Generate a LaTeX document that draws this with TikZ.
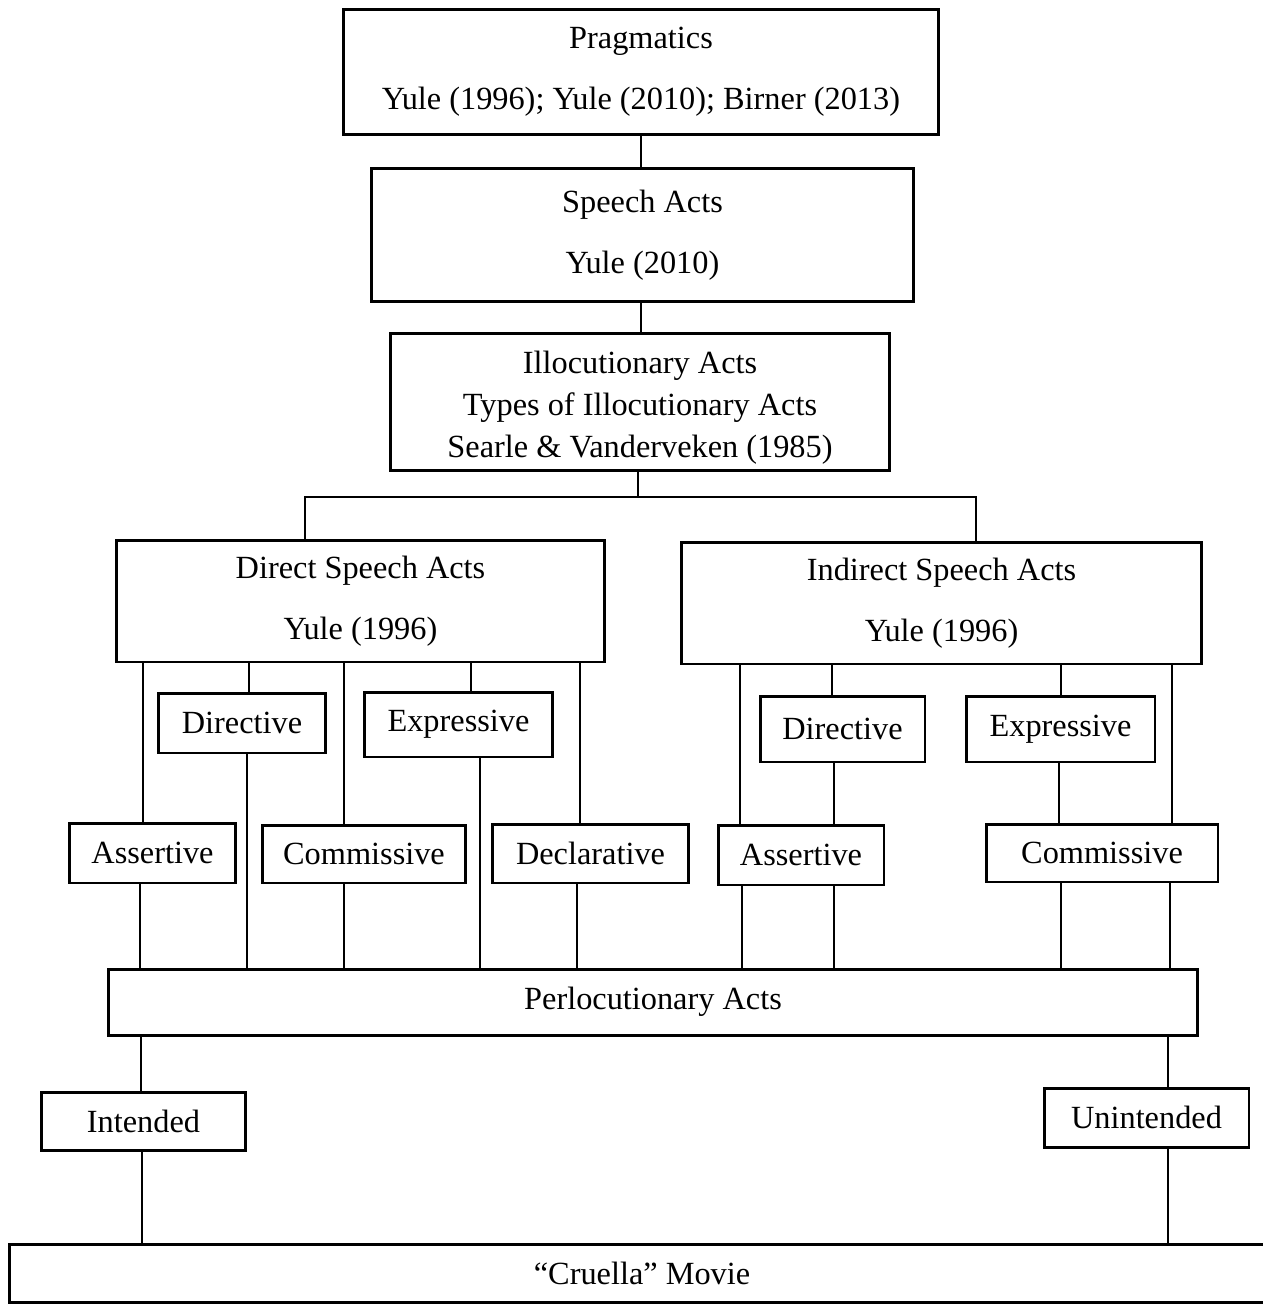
\documentclass[tikz,border=0pt]{standalone}
\usepackage{fontspec}
\setmainfont{Liberation Serif}
\definecolor{LineClr}{rgb}{0,0,0}

\begin{document}
\begin{tikzpicture}[x=0.02cm,y=-0.02cm,
  box/.style={draw=LineClr,line width=1.7pt,inner sep=0pt,align=center,
    font=\fontsize{18.4}{34.5}\selectfont},
  link/.style={draw=LineClr,line width=0.7pt}]
\useasboundingbox (0,0) rectangle (1263,1304);

% Top of the tree.
\node[box,minimum width=11.92cm,minimum height=2.52cm] (prag) at (641,72)
  {Pragmatics\\Yule (1996); Yule (2010); Birner (2013)};
\node[box,minimum width=10.86cm,minimum height=2.68cm] (speech) at (642.5,235)
  {Speech Acts\\Yule (2010)};
\node[box,minimum width=10cm,minimum height=2.76cm,
  font=\fontsize{18.4}{23.8}\selectfont] (illoc) at (640,402)
  {\rule{0pt}{19.5pt}Illocutionary Acts\\Types of Illocutionary Acts\\Searle \& Vanderveken (1985)};

% The two kinds of speech acts.
\node[box,minimum width=9.78cm,minimum height=2.44cm] (direct) at (360.5,601)
  {Direct Speech Acts\\Yule (1996)};
\node[box,minimum width=10.42cm,minimum height=2.44cm] (indirect) at (941.5,603)
  {Indirect Speech Acts\\Yule (1996)};

% Types under the direct speech acts.
\node[box,minimum width=3.36cm,minimum height=1.2cm] (dDir) at (242,723) {Directive};
\node[box,minimum width=3.78cm,minimum height=1.3cm] (dExp) at (458.5,724.5) {Expressive};
\node[box,minimum width=3.34cm,minimum height=1.2cm] (dAss) at (152.5,853) {Assertive};
\node[box,minimum width=4.08cm,minimum height=1.16cm] (dCom) at (364,854) {Commissive};
\node[box,minimum width=3.94cm,minimum height=1.18cm] (dDec) at (590.5,853.5) {Declarative};

% Types under the indirect speech acts.
\node[box,minimum width=3.3cm,minimum height=1.32cm] (iDir) at (842.5,729) {Directive};
\node[box,minimum width=3.78cm,minimum height=1.32cm] (iExp) at (1060.5,729) {Expressive};
\node[box,minimum width=3.32cm,minimum height=1.2cm] (iAss) at (801,855) {Assertive};
\node[box,minimum width=4.64cm,minimum height=1.16cm] (iCom) at (1102,853) {Commissive};

% Bottom of the tree.
\node[box,minimum width=21.8cm,minimum height=1.32cm] (perl) at (653,1002) {Perlocutionary Acts};
\node[box,minimum width=4.1cm,minimum height=1.16cm] (int) at (143.5,1121) {Intended};
\node[box,minimum width=4.1cm,minimum height=1.18cm] (unint) at (1146.5,1117.5) {Unintended};
\node[box,minimum width=25.32cm,minimum height=1.16cm] (movie) at (642,1273) {``Cruella'' Movie};

% Connectors down the middle.
\draw[link] (prag.south -| 641,0) -- (speech.north -| 641,0);
\draw[link] (speech.south -| 641,0) -- (illoc.north -| 641,0);
\coordinate (split) at (638,497);
\draw[link] (illoc.south -| split) -- (split);
\draw[link] (direct.north -| 305,0) |- (split) -| (indirect.north -| 976,0);

% Connectors of the direct speech acts.
\draw[link] (direct.south -| 143,0) -- (dAss.north -| 143,0);
\draw[link] (direct.south -| 249,0) -- (dDir.north -| 249,0);
\draw[link] (direct.south -| 344,0) -- (dCom.north -| 344,0);
\draw[link] (direct.south -| 471,0) -- (dExp.north -| 471,0);
\draw[link] (direct.south -| 580,0) -- (dDec.north -| 580,0);
\draw[link] (dAss.south -| 140,0) -- (perl.north -| 140,0);
\draw[link] (dDir.south -| 247,0) -- (perl.north -| 247,0);
\draw[link] (dCom.south -| 344,0) -- (perl.north -| 344,0);
\draw[link] (dExp.south -| 480,0) -- (perl.north -| 480,0);
\draw[link] (dDec.south -| 577,0) -- (perl.north -| 577,0);

% Connectors of the indirect speech acts.
\draw[link] (indirect.south -| 740,0) -- (iAss.north -| 740,0);
\draw[link] (indirect.south -| 832,0) -- (iDir.north -| 832,0);
\draw[link] (indirect.south -| 1061,0) -- (iExp.north -| 1061,0);
\draw[link] (indirect.south -| 1172,0) -- (iCom.north -| 1172,0);
\draw[link] (iDir.south -| 834,0) -- (iAss.north -| 834,0);
\draw[link] (iExp.south -| 1059,0) -- (iCom.north -| 1059,0);
\draw[link] (iAss.south -| 742,0) -- (perl.north -| 742,0);
\draw[link] (iAss.south -| 834,0) -- (perl.north -| 834,0);
\draw[link] (iCom.south -| 1061,0) -- (perl.north -| 1061,0);
\draw[link] (iCom.south -| 1170,0) -- (perl.north -| 1170,0);

% Connectors to the movie.
\draw[link] (perl.south -| 141,0) -- (int.north -| 141,0);
\draw[link] (perl.south -| 1168,0) -- (unint.north -| 1168,0);
\draw[link] (int.south -| 142,0) -- (movie.north -| 142,0);
\draw[link] (unint.south -| 1168,0) -- (movie.north -| 1168,0);

\end{tikzpicture}
\end{document}
